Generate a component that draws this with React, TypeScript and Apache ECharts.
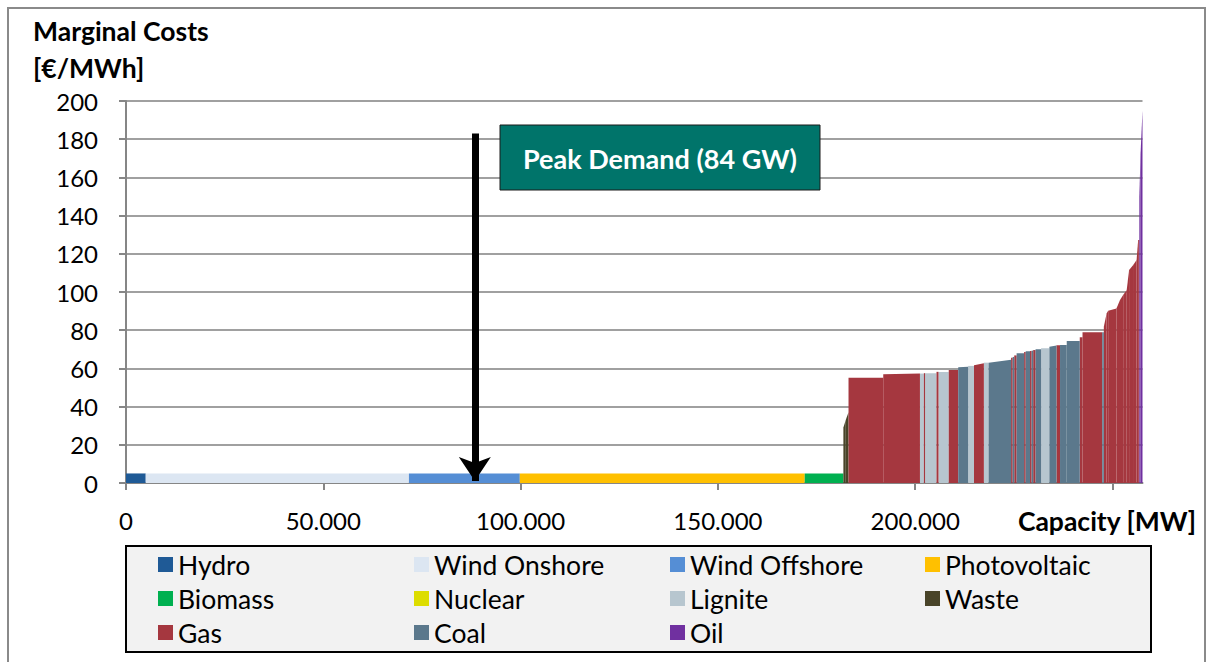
import React, { useEffect, useRef } from "react";
import * as echarts from "echarts";

// [start MW, end MW, cost at start (€/MWh), cost at end (€/MWh)]
const hydroBlocks = [[0, 5000, 5, 5]];
const windOnshoreBlocks = [[5000, 71700, 5, 5]];
const windOffshoreBlocks = [[71700, 99800, 5, 5]];
const photovoltaicBlocks = [[99800, 172000, 5, 5]];
const biomassBlocks = [[172000, 181800, 5, 5]];
const nuclearBlocks: number[][] = [];
const wasteBlocks = [[181800, 182400, 29, 33], [182400, 183100, 33, 37]];
const ligniteBlocks = [
  [201200, 202200, 57.3, 57.3],
  [202500, 205400, 57.4, 57.4],
  [205900, 208500, 58.1, 58.1],
  [213400, 214900, 61.3, 61.3],
  [217400, 218600, 63.0, 63.0],
  [231900, 234000, 70.6, 70.6],
];
const gasBlocks = [
  [183100, 191900, 55.1, 55.1],
  [191900, 201200, 57.0, 57.3],
  [202200, 202500, 57.5, 57.5],
  [205400, 205900, 58.2, 58.2],
  [208500, 210900, 59.2, 59.2],
  [214900, 217400, 61.6, 62.7],
  [224300, 224700, 65.6, 65.6],
  [225100, 225700, 66.8, 66.8],
  [227600, 228000, 68.6, 68.6],
  [229100, 229500, 69.1, 69.1],
  [229900, 230500, 69.6, 69.6],
  [235800, 236700, 72.1, 72.1],
  [241700, 242400, 76.3, 76.3],
  [242400, 247400, 78.9, 78.9],
  [247800, 248500, 81.8, 88.8],
  [248500, 248900, 88.8, 90.2],
  [248900, 251000, 90.2, 91.4],
  [251000, 251900, 91.4, 95.8],
  [251900, 252700, 95.8, 98.4],
  [252700, 253600, 98.4, 101],
  [253600, 254200, 101, 111.5],
  [254200, 255200, 111.5, 114],
  [255200, 256100, 114, 116.8],
  [256100, 256500, 116.8, 127.2],
  [256500, 256800, 127.2, 127.2],
];
const coalBlocks = [
  [210900, 213400, 60.6, 60.9],
  [218600, 224300, 63.0, 64.5],
  [224700, 225100, 66.0, 66.0],
  [225700, 227600, 67.9, 67.9],
  [228000, 229100, 69.0, 69.0],
  [229500, 229900, 69.3, 69.3],
  [230500, 231900, 70.0, 70.0],
  [234000, 235800, 71.4, 72.0],
  [236700, 238400, 72.2, 72.2],
  [238400, 241700, 74.3, 74.3],
  [247400, 247800, 78.9, 78.9],
];
const oilBlocks = [[256800, 257100, 150, 172], [257100, 257600, 172, 195]];

const xTicks = [0, 50000, 100000, 150000, 200000, 250000];
const yTicks = [0, 20, 40, 60, 80, 100, 120, 140, 160, 180, 200];
const peakDemandMW = 88400;

const fuels = [
  { name: "Hydro", color: "#1F5A96", data: hydroBlocks },
  { name: "Wind Onshore", color: "#DCE6F2", data: windOnshoreBlocks },
  { name: "Wind Offshore", color: "#558ED5", data: windOffshoreBlocks },
  { name: "Photovoltaic", color: "#FFC000", data: photovoltaicBlocks },
  { name: "Biomass", color: "#00B050", data: biomassBlocks },
  { name: "Nuclear", color: "#DDDD00", data: nuclearBlocks },
  { name: "Lignite", color: "#B7C6CF", data: ligniteBlocks },
  { name: "Waste", color: "#494429", data: wasteBlocks },
  { name: "Gas", color: "#A5373F", data: gasBlocks },
  { name: "Coal", color: "#5B788C", data: coalBlocks },
  { name: "Oil", color: "#7030A0", data: oilBlocks },
];

const legendColumns = [
  ["Hydro", "Biomass", "Gas"],
  ["Wind Onshore", "Nuclear", "Coal"],
  ["Wind Offshore", "Lignite", "Oil"],
  ["Photovoltaic", "Waste"],
];
const legendColumnX = [158, 414, 670, 925];

const FONT = "Lato";

export default function App() {
  const ref = useRef<HTMLDivElement>(null);
  useEffect(() => {
    document.body.style.margin = "0";
    const chart = echarts.init(ref.current!, null, { renderer: "svg" });

    const fmt = (v: number) => {
      if (v === 250000) return "";
      return String(v).replace(/\B(?=(\d{3})+(?!\d))/g, ".");
    };

    const series: any[] = fuels.map((f, i) => {
      const s: any = {
        type: "custom",
        name: f.name,
        itemStyle: { color: f.color },
        encode: { x: [0, 1], y: [2, 3] },
        data: f.data,
        renderItem: (params: any, api: any) => {
          const x0 = api.value(0);
          const x1 = api.value(1);
          const yl = api.value(2);
          const yr = api.value(3);
          const pts = [
            api.coord([x0, 0]),
            api.coord([x1, 0]),
            api.coord([x1, yr]),
            api.coord([x0, yl]),
          ];
          return {
            type: "polygon",
            shape: { points: pts },
            style: { fill: f.color },
          };
        },
      };
      if (i === 0) {
        s.markLine = {
          silent: true,
          symbol: ["none", "arrow"],
          symbolSize: [24, 24],
          label: { show: false },
          lineStyle: { color: "#000", width: 7, type: "solid" },
          data: [[{ coord: [peakDemandMW, 183] }, { coord: [peakDemandMW, 1] }]],
          z: 10,
        };
      }
      return s;
    });

    const legends = legendColumns.map((col, i) => ({
      orient: "vertical",
      left: legendColumnX[i],
      top: 551,
      padding: 0,
      itemWidth: 15,
      itemHeight: 15,
      itemGap: 7,
      icon: "rect",
      selectedMode: false,
      data: col,
      textStyle: { fontFamily: FONT, fontSize: 26.5, color: "#000" },
    }));

    chart.setOption({
      animation: false,
      backgroundColor: "#fff",
      textStyle: { fontFamily: FONT },
      grid: { left: 126, right: 63.5, top: 101, bottom: 179, containLabel: false },
      xAxis: {
        type: "value",
        min: 0,
        max: 257600,
        interval: 50000,
        axisLine: { show: true, lineStyle: { color: "#868686", width: 2 } },
        axisTick: { show: true, length: 7, lineStyle: { color: "#868686", width: 2 } },
        splitLine: { show: false },
        axisLabel: {
          fontFamily: FONT,
          fontSize: 24,
          color: "#000",
          margin: 25,
          formatter: fmt,
          showMaxLabel: false,
        },
      },
      yAxis: {
        type: "value",
        min: 0,
        max: 200,
        interval: 20,
        axisLine: { show: true, lineStyle: { color: "#868686", width: 2 } },
        axisTick: { show: true, length: 7, lineStyle: { color: "#868686", width: 2 } },
        splitLine: { show: true, lineStyle: { color: "#A0A0A0", width: 2 } },
        axisLabel: { fontFamily: FONT, fontSize: 24, color: "#000", margin: 28 },
      },
      legend: legends,
      graphic: [
        {
          type: "rect",
          z: -10,
          silent: true,
          shape: { x: 8, y: 8, width: 1197, height: 700 },
          style: { fill: "none", stroke: "#8A8A8A", lineWidth: 2 },
        },
        {
          type: "rect",
          z: 0,
          silent: true,
          shape: { x: 126, y: 546, width: 1025, height: 106 },
          style: { fill: "#F2F2F2", stroke: "#000", lineWidth: 2 },
        },
        {
          type: "text",
          silent: true,
          x: 33,
          y: 31,
          style: {
            text: "Marginal Costs",
            fontFamily: FONT,
            fontWeight: "bold",
            fontSize: 26.5,
            fill: "#000",
            align: "left",
            verticalAlign: "middle",
          },
        },
        {
          type: "text",
          silent: true,
          x: 33,
          y: 68,
          style: {
            text: "[€/MWh]",
            fontFamily: FONT,
            fontWeight: "bold",
            fontSize: 26.5,
            fill: "#000",
            align: "left",
            verticalAlign: "middle",
          },
        },
        {
          type: "text",
          silent: true,
          x: 1196,
          y: 521,
          style: {
            text: "Capacity [MW]",
            fontFamily: FONT,
            fontWeight: "bold",
            fontSize: 26.5,
            fill: "#000",
            align: "right",
            verticalAlign: "middle",
          },
        },
        {
          type: "rect",
          z: 20,
          silent: true,
          shape: { x: 500, y: 125, width: 320, height: 65 },
          style: { fill: "#00746A", stroke: "#1a1a1a", lineWidth: 1 },
        },
        {
          type: "text",
          z: 21,
          silent: true,
          x: 660,
          y: 158,
          style: {
            text: "Peak Demand (84 GW)",
            fontFamily: FONT,
            fontWeight: "bold",
            fontSize: 27,
            fill: "#fff",
            align: "center",
            verticalAlign: "middle",
          },
        },
      ],
      series,
    });
    return () => chart.dispose();
  }, []);
  return <div ref={ref} style={{ width: 1206, height: 662, overflow: "hidden" }} />;
}
